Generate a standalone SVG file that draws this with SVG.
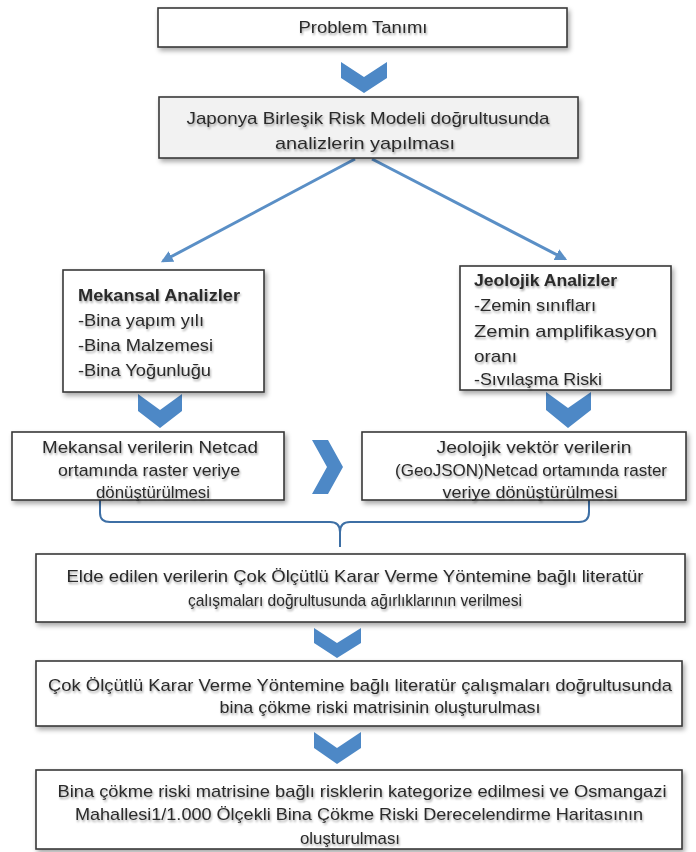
<svg xmlns="http://www.w3.org/2000/svg" width="696" height="852" viewBox="0 0 696 852">
  <defs>
    <filter id="sh" x="-10%" y="-20%" width="125%" height="150%">
      <feGaussianBlur in="SourceAlpha" stdDeviation="2.5"/>
      <feOffset dx="2" dy="3" result="b"/>
      <feComponentTransfer><feFuncA type="linear" slope="0.35"/></feComponentTransfer>
      <feMerge><feMergeNode/><feMergeNode in="SourceGraphic"/></feMerge>
    </filter>
    <filter id="tsh" x="-5%" y="-30%" width="110%" height="160%">
      <feGaussianBlur in="SourceAlpha" stdDeviation="1.3"/>
      <feOffset dx="1" dy="1.5" result="b"/>
      <feComponentTransfer><feFuncA type="linear" slope="0.35"/></feComponentTransfer>
      <feMerge><feMergeNode/><feMergeNode in="SourceGraphic"/></feMerge>
    </filter>
    <marker id="ah" viewBox="0 0 10 10" refX="8" refY="5" markerWidth="4" markerHeight="4" orient="auto" markerUnits="strokeWidth">
      <path d="M0,0 L10,5 L0,10 Z" fill="#5a8fc6"/>
    </marker>
  </defs>
  <style>
    .box { fill: #ffffff; stroke: #3a3a3a; stroke-width: 1.6; }
    .gbox { fill: #f2f2f2; stroke: #3a3a3a; stroke-width: 1.6; }
    .t { font-family: "Liberation Sans", Arial, sans-serif; font-size: 17px; fill: #2a2a2a; }
    .c { text-anchor: middle; }
    .b { font-weight: bold; }
    .chev { fill: #4d88c6; }
    .ln { stroke: #5a8fc6; stroke-width: 3; fill: none; }
    .br { stroke: #3d6fa5; stroke-width: 2; fill: none; }
  </style>
  <rect width="696" height="852" fill="#ffffff"/>

  <g id="connectors">
    <path class="chev" d="M341,62 L364,77 L387,62 L387,78 L364,93 L341,78 Z"/>
    <line class="ln" x1="355" y1="159" x2="163" y2="261" marker-end="url(#ah)"/>
    <line class="ln" x1="372" y1="159" x2="565" y2="259" marker-end="url(#ah)"/>
    <path class="chev" d="M138,394 L160,410 L182,394 L182,411 L160,428 L138,411 Z"/>
    <path class="chev" d="M546,392 L568,408 L591,392 L591,410 L568,428 L546,410 Z"/>
    <path class="chev" d="M312,440 L328,440 L343,467 L328,494 L312,494 L327,467 Z"/>
    <path class="br" d="M100,500 L100,513 Q100,522 110,522 L330,522 Q340,522 340,532 L340,547 M340,532 Q340,522 350,522 L579,522 Q589,522 589,512 L589,500"/>
    <path class="chev" d="M314,628 L337,643 L361,628 L361,643 L337,658 L314,643 Z"/>
    <path class="chev" d="M314,732 L337,748 L361,732 L361,748 L337,764 L314,748 Z"/>
  </g>

  <g id="problem">
    <rect class="box" x="158" y="8" width="409" height="39" filter="url(#sh)"/>
    <text class="t c" x="363" y="33" font-size="16" textLength="129" lengthAdjust="spacingAndGlyphs" filter="url(#tsh)">Problem Tanımı</text>
  </g>

  <g id="japonya">
    <rect class="gbox" x="159" y="97" width="419" height="61" filter="url(#sh)"/>
    <text class="t c" x="368" y="124" font-size="18" textLength="363" lengthAdjust="spacingAndGlyphs" filter="url(#tsh)">Japonya Birleşik Risk Modeli doğrultusunda</text>
    <text class="t c" x="365" y="149" font-size="18" textLength="180" lengthAdjust="spacingAndGlyphs" filter="url(#tsh)">analizlerin yapılması</text>
  </g>

  <g id="mekansal">
    <rect class="box" x="63" y="270" width="201" height="122" filter="url(#sh)"/>
    <text class="t b" x="78" y="301" textLength="162" lengthAdjust="spacingAndGlyphs" filter="url(#tsh)">Mekansal  Analizler</text>
    <text class="t" x="78" y="326" textLength="126" lengthAdjust="spacingAndGlyphs" filter="url(#tsh)">-Bina yapım  yılı</text>
    <text class="t" x="78" y="351" textLength="135" lengthAdjust="spacingAndGlyphs" filter="url(#tsh)">-Bina Malzemesi</text>
    <text class="t" x="78" y="376" textLength="133" lengthAdjust="spacingAndGlyphs" filter="url(#tsh)">-Bina Yoğunluğu</text>
  </g>

  <g id="jeolojik">
    <rect class="box" x="460" y="266" width="211" height="124" filter="url(#sh)"/>
    <text class="t b" x="474" y="286" textLength="143" lengthAdjust="spacingAndGlyphs" filter="url(#tsh)">Jeolojik Analizler</text>
    <text class="t" x="474" y="311" textLength="122" lengthAdjust="spacingAndGlyphs" filter="url(#tsh)">-Zemin sınıfları</text>
    <text class="t" x="474" y="337" textLength="183" lengthAdjust="spacingAndGlyphs" filter="url(#tsh)">Zemin   amplifikasyon</text>
    <text class="t" x="474" y="362" textLength="43" lengthAdjust="spacingAndGlyphs" filter="url(#tsh)">oranı</text>
    <text class="t" x="474" y="385" textLength="128" lengthAdjust="spacingAndGlyphs" filter="url(#tsh)">-Sıvılaşma  Riski</text>
  </g>

  <g id="mekansal-raster">
    <rect class="box" x="12" y="432" width="272" height="68" filter="url(#sh)"/>
    <text class="t c" x="150" y="453" textLength="216" lengthAdjust="spacingAndGlyphs" filter="url(#tsh)">Mekansal verilerin Netcad</text>
    <text class="t c" x="149" y="476" textLength="182" lengthAdjust="spacingAndGlyphs" filter="url(#tsh)">ortamında raster veriye</text>
    <text class="t c" x="153" y="498" textLength="114" lengthAdjust="spacingAndGlyphs" filter="url(#tsh)">dönüştürülmesi</text>
  </g>

  <g id="jeolojik-raster">
    <rect class="box" x="362" y="432" width="324" height="68" filter="url(#sh)"/>
    <text class="t c" x="534" y="453" textLength="195" lengthAdjust="spacingAndGlyphs" filter="url(#tsh)">Jeolojik vektör verilerin</text>
    <text class="t c" x="531" y="476" textLength="272" lengthAdjust="spacingAndGlyphs" filter="url(#tsh)">(GeoJSON)Netcad ortamında raster</text>
    <text class="t c" x="530" y="498" textLength="175" lengthAdjust="spacingAndGlyphs" filter="url(#tsh)">veriye dönüştürülmesi</text>
  </g>

  <g id="agirlik">
    <rect class="box" x="36" y="554" width="649" height="68" filter="url(#sh)"/>
    <text class="t c" x="355" y="582" textLength="577" lengthAdjust="spacingAndGlyphs" filter="url(#tsh)">Elde edilen verilerin Çok Ölçütlü Karar Verme Yöntemine bağlı literatür</text>
    <text class="t c" x="355" y="606" textLength="334" lengthAdjust="spacingAndGlyphs" filter="url(#tsh)">çalışmaları doğrultusunda ağırlıklarının verilmesi</text>
  </g>

  <g id="matris">
    <rect class="box" x="36" y="661" width="646" height="65" filter="url(#sh)"/>
    <text class="t c" x="360" y="691" textLength="624" lengthAdjust="spacingAndGlyphs" filter="url(#tsh)">Çok Ölçütlü Karar Verme Yöntemine bağlı literatür çalışmaları doğrultusunda</text>
    <text class="t c" x="380" y="713" textLength="321" lengthAdjust="spacingAndGlyphs" filter="url(#tsh)">bina çökme riski matrisinin oluşturulması</text>
  </g>

  <g id="harita">
    <rect class="box" x="36" y="770" width="646" height="79" filter="url(#sh)"/>
    <text class="t c" x="362" y="797" textLength="609" lengthAdjust="spacingAndGlyphs" filter="url(#tsh)">Bina çökme riski matrisine bağlı risklerin kategorize edilmesi ve Osmangazi</text>
    <text class="t c" x="359" y="820" textLength="568" lengthAdjust="spacingAndGlyphs" filter="url(#tsh)">Mahallesi1/1.000 Ölçekli  Bina Çökme Riski Derecelendirme Haritasının</text>
    <text class="t c" x="350" y="844" textLength="100" lengthAdjust="spacingAndGlyphs" filter="url(#tsh)">oluşturulması</text>
  </g>
</svg>
